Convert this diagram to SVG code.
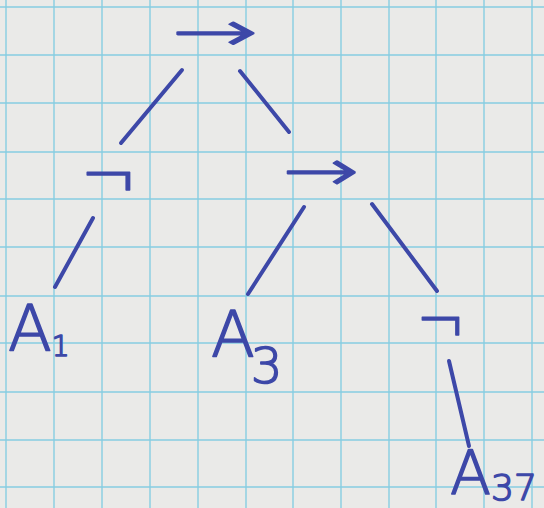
<svg xmlns="http://www.w3.org/2000/svg" width="544" height="508" viewBox="0 0 544 508">
<style>
.grid line{stroke:#86cde2;stroke-width:1.4}
.edge{stroke:#3d48a8;stroke-width:4;stroke-linecap:round;fill:none}
.sym{font-family:"DejaVu Sans",sans-serif;font-weight:200;fill:#3d48a8;stroke:#3d48a8;stroke-width:1.6;stroke-linejoin:round}
.lab{font-family:"DejaVu Sans",sans-serif;font-weight:200;fill:#3d48a8;stroke:#3d48a8;stroke-width:1.6;stroke-linejoin:round}
</style>
<rect width="544" height="508" fill="#eaeae8"/>
<g class="grid">
<line x1="6" y1="0" x2="6" y2="508"/><line x1="54" y1="0" x2="54" y2="508"/><line x1="102" y1="0" x2="102" y2="508"/><line x1="150" y1="0" x2="150" y2="508"/><line x1="198" y1="0" x2="198" y2="508"/><line x1="246" y1="0" x2="246" y2="508"/><line x1="293" y1="0" x2="293" y2="508"/><line x1="341" y1="0" x2="341" y2="508"/><line x1="389" y1="0" x2="389" y2="508"/><line x1="436" y1="0" x2="436" y2="508"/><line x1="484" y1="0" x2="484" y2="508"/><line x1="532" y1="0" x2="532" y2="508"/>
<line x1="0" y1="7" x2="544" y2="7"/><line x1="0" y1="55" x2="544" y2="55"/><line x1="0" y1="103" x2="544" y2="103"/><line x1="0" y1="152" x2="544" y2="152"/><line x1="0" y1="199" x2="544" y2="199"/><line x1="0" y1="247" x2="544" y2="247"/><line x1="0" y1="296" x2="544" y2="296"/><line x1="0" y1="343" x2="544" y2="343"/><line x1="0" y1="392" x2="544" y2="392"/><line x1="0" y1="440" x2="544" y2="440"/><line x1="0" y1="487" x2="544" y2="487"/>
</g>
<g id="connectors">
<line class="edge" x1="182" y1="70" x2="121" y2="143"/>
<line class="edge" x1="240" y1="71" x2="289" y2="132"/>
<line class="edge" x1="93" y1="218" x2="55" y2="287"/>
<line class="edge" x1="304" y1="207" x2="248" y2="294"/>
<line class="edge" x1="372" y1="204" x2="437" y2="291"/>
<line class="edge" x1="449" y1="361" x2="469" y2="446"/>
</g>
<g id="node-root"><text class="sym" x="172" y="50" font-size="54" textLength="86" lengthAdjust="spacingAndGlyphs">→</text></g>
<g id="node-not1"><text class="sym" x="80" y="200" font-size="70" textLength="58" lengthAdjust="spacingAndGlyphs">¬</text></g>
<g id="node-imp2"><text class="sym" x="283" y="190" font-size="56" textLength="76" lengthAdjust="spacingAndGlyphs">→</text></g>
<g id="node-A1"><text class="lab" x="8" y="351" font-size="64">A<tspan font-size="28" dy="5">1</tspan></text></g>
<g id="node-A3"><text class="lab" x="211" y="357" font-size="64">A<tspan font-size="50" dx="-4" dy="26">3</tspan></text></g>
<g id="node-not2"><text class="sym" x="416" y="345" font-size="70" textLength="50" lengthAdjust="spacingAndGlyphs">¬</text></g>
<g id="node-A37"><text class="lab" x="450" y="494" font-size="60">A<tspan font-size="36" dy="6">37</tspan></text></g>
</svg>
